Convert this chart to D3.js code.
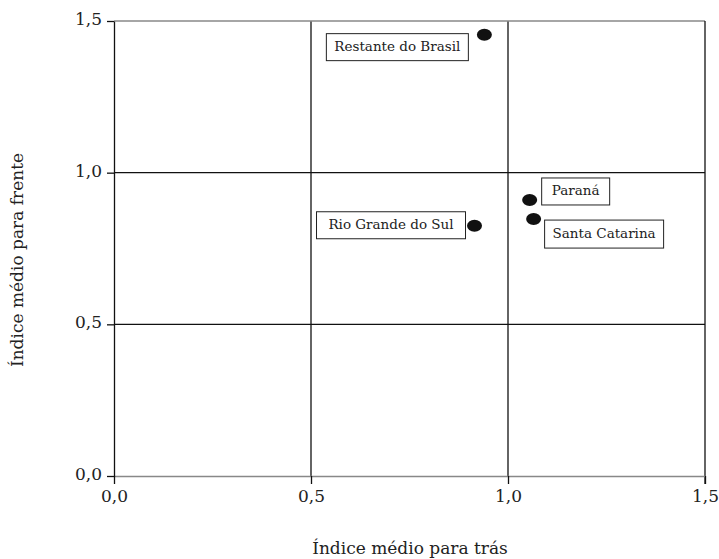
<!DOCTYPE html>
<html><head><meta charset="utf-8">
<script src="https://cdn.jsdelivr.net/npm/d3@7"></script>
<style>body{margin:0;background:#fff}svg{display:block}text{font-family:"DejaVu Serif","Liberation Serif",serif}</style>
</head><body><svg id="c" width="719" height="559"></svg>
<script>
const regions = ["Restante do Brasil", "Paraná", "Santa Catarina", "Rio Grande do Sul"];
const backward = [0.94, 1.055, 1.065, 0.915];
const forward = [1.455, 0.91, 0.847, 0.825];
const xTicks = [0, 0.5, 1.0, 1.5];
const yTicks = [0, 0.5, 1.0, 1.5];
const tickLabels = ["0,0", "0,5", "1,0", "1,5"];
// label box offsets (px) relative to point
const labelPos = [
  {dx: -158, dy: -1, w: 142, h: 27},
  {dx: 12, dy: -22, w: 68, h: 27},
  {dx: 11, dy: 1, w: 119, h: 28},
  {dx: -158, dy: -14, w: 149, h: 27}
];

const svg = d3.select("#c");
const x = d3.scaleLinear().domain([0, 1.5]).range([114, 705]);
const y = d3.scaleLinear().domain([0, 1.5]).range([476, 21]);

// grid lines
svg.append("g").selectAll("line").data([0.5, 1.0]).join("line")
  .attr("x1", d => x(d)).attr("x2", d => x(d)).attr("y1", y(1.5)).attr("y2", y(0))
  .attr("stroke", "#111").attr("stroke-width", 1.3);
svg.append("g").selectAll("line").data([0.5, 1.0]).join("line")
  .attr("x1", x(0)).attr("x2", x(1.5)).attr("y1", d => y(d)).attr("y2", d => y(d))
  .attr("stroke", "#111").attr("stroke-width", 1.3);
// top gray line
svg.append("line").attr("x1", x(0)).attr("x2", x(1.5)).attr("y1", y(1.5)).attr("y2", y(1.5))
  .attr("stroke", "#888").attr("stroke-width", 1.6);
// right border
svg.append("line").attr("x1", x(1.5)).attr("x2", x(1.5)).attr("y1", y(1.5)).attr("y2", y(0) + 8)
  .attr("stroke", "#111").attr("stroke-width", 1.3);

// axes
const fmt = d => tickLabels[xTicks.indexOf(d)];
const xAxis = svg.append("g").attr("transform", `translate(0,${y(0)})`)
  .call(d3.axisBottom(x).tickValues(xTicks).tickFormat(fmt).tickSize(8).tickPadding(6).tickSizeOuter(0));
const yAxis = svg.append("g").attr("transform", `translate(${x(0)},0)`)
  .call(d3.axisLeft(y).tickValues(yTicks).tickFormat(fmt).tickSize(7).tickPadding(5).tickSizeOuter(0));
[xAxis, yAxis].forEach(a => {
  a.selectAll("text").attr("font-size", 17).attr("fill", "#222");
  a.selectAll(".tick line").attr("stroke", "#111").attr("stroke-width", 1.3);
});
xAxis.select(".domain").attr("stroke", "#888").attr("stroke-width", 1.6);
yAxis.select(".domain").attr("stroke", "#111").attr("stroke-width", 1.3);
yAxis.selectAll(".tick text").attr("dy", "0.2em");

// axis titles
svg.append("text").attr("x", 410).attr("y", 554).attr("text-anchor", "middle")
  .attr("font-size", 17).attr("fill", "#222").text("Índice médio para trás");
svg.append("text").attr("transform", "translate(23,260) rotate(-90)").attr("text-anchor", "middle")
  .attr("font-size", 17).attr("fill", "#222").text("Índice médio para frente");

// points
const data = regions.map((r, i) => ({r, bx: backward[i], fy: forward[i], lp: labelPos[i]}));
svg.append("g").selectAll("ellipse").data(data).join("ellipse")
  .attr("cx", d => x(d.bx)).attr("cy", d => y(d.fy)).attr("rx", 7.5).attr("ry", 6)
  .attr("fill", "#111");

// labels
const lg = svg.append("g").selectAll("g").data(data).join("g")
  .attr("transform", d => `translate(${x(d.bx) + d.lp.dx},${y(d.fy) + d.lp.dy})`);
lg.append("rect").attr("width", d => d.lp.w).attr("height", d => d.lp.h)
  .attr("fill", "#fff").attr("stroke", "#222").attr("stroke-width", 1);
lg.append("text").attr("x", d => d.lp.w / 2).attr("y", d => d.lp.h / 2 + 4)
  .attr("text-anchor", "middle").attr("font-size", 13.5).attr("fill", "#222").text(d => d.r);
</script></body></html>
